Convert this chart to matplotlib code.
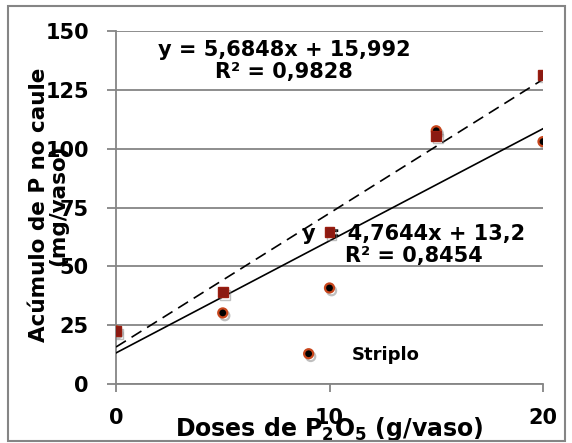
import numpy as np
import matplotlib
matplotlib.use("Agg")
import matplotlib.pyplot as plt
import matplotlib.patheffects as pe
from matplotlib.patches import Rectangle

# data
doses = [0, 5, 10, 15, 20]
caule_a = [22.5, 39.0, 64.5, 105.5, 131.4]   # squares, dashed fit
caule_b = [22.6, 30.2, 40.8, 107.6, 103.0]   # circles, "Striplo", solid fit
eq_a = "y = 5,6848x + 15,992\nR² = 0,9828"
eq_b = "y = 4,7644x + 13,2\nR² = 0,8454"
yticks = [0, 25, 50, 75, 100, 125, 150]
xticks = [0, 10, 20]

plt.rcParams['font.family'] = ['DejaVu Sans']
plt.rcParams['mathtext.default'] = 'bf'
W = 'bold'
GRAY = '#858585'

fig = plt.figure(figsize=(5.72, 4.43), dpi=100)
ax = fig.add_axes([116/572, (443-384)/443, (543-116)/572, (384-31)/443])

# outer chart border
fig.patches.append(Rectangle((8/572, 2/443), 557/572, 435/443, transform=fig.transFigure,
                             fill=False, edgecolor=GRAY, linewidth=1.5))

shadow = [pe.SimpleLineShadow(offset=(1.5, -2), shadow_color='gray', alpha=0.5), pe.Normal()]

# fitted lines
xs = np.array([0, 20])
pa = np.polyfit(doses, caule_a, 1)
pb = np.polyfit(doses, caule_b, 1)
ax.plot(xs, np.polyval(pa, xs), color='black', lw=1.2, ls=(0, (7, 4)), zorder=3)
ax.plot(xs, np.polyval(pb, xs), color='black', lw=1.2, zorder=3)

ax.plot(doses, caule_b, ls='none', marker='o', ms=6.5, color='black', mec='#c8461c', mew=1.6,
        zorder=4, path_effects=shadow, label='Striplo')
ax.plot(doses, caule_a, ls='none', marker='s', ms=7, color='#8b1a12', mec='#9a1e10',
        zorder=5, path_effects=shadow)

ax.set_xlim(0, 20)
ax.set_ylim(0, 150)
ax.set_yticks(yticks)
ax.set_xticks(xticks)
ax.grid(axis='y', color=GRAY, lw=1.3)
ax.set_axisbelow(True)
for s in ['top', 'right']:
    ax.spines[s].set_visible(False)
for s in ['left', 'bottom']:
    ax.spines[s].set_color(GRAY)
    ax.spines[s].set_linewidth(1.3)
ax.tick_params(axis='y', length=6.5, width=1.3, color=GRAY, pad=13, labelsize=15)
ax.tick_params(axis='x', length=6, width=1.3, color=GRAY, pad=11, labelsize=15)
for lab in ax.get_xticklabels() + ax.get_yticklabels():
    lab.set_fontweight(W)

ax.text(7.87, 137.3, eq_a, ha='center', va='center', fontsize=15, fontweight=W,
        linespacing=1.15, multialignment='center')
ax.text(13.96, 59.1, eq_b, ha='center', va='center', fontsize=15, fontweight=W,
        linespacing=1.15, multialignment='center')

ax.set_ylabel("Acúmulo de P no caule\n(mg/vaso)", fontsize=15.5, fontweight=W,
              linespacing=0.95)
ax.set_xlabel("Doses de P$_2$O$_5$ (g/vaso)", fontsize=17, fontweight=W)
ax.yaxis.set_label_coords(-0.112, 0.507)
ax.xaxis.set_label_coords(0.499, -0.088)

ax.legend(loc='center left', bbox_to_anchor=(0.43, 0.082), frameon=False,
          prop={'weight': W, 'size': 13}, handlelength=1, handletextpad=1.9,
          borderpad=0, borderaxespad=0)

fig.savefig("out.png", dpi=100)
